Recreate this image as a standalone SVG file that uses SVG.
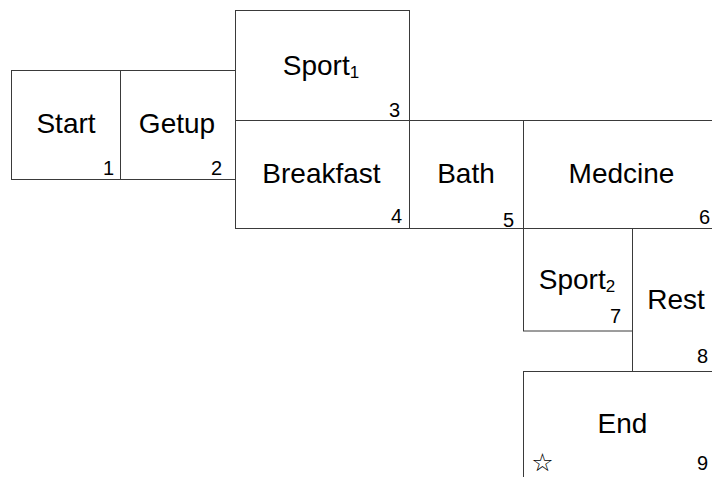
<svg xmlns="http://www.w3.org/2000/svg" width="712" height="477" viewBox="0 0 712 477">
  <style>
    .box { fill: #ffffff; stroke: #3a3a3a; stroke-width: 1; }
    .lbl { font-family: "Liberation Sans", Arial, sans-serif; font-size: 28px; fill: #000; text-anchor: middle; }
    .sub { font-size: 17px; }
    .num { font-family: "Liberation Sans", Arial, sans-serif; font-size: 20px; fill: #000; text-anchor: end; }
    .mark { font-family: "DejaVu Sans", sans-serif; font-size: 25px; fill: #000; text-anchor: middle; }
  </style>
  <rect x="0" y="0" width="712" height="477" fill="#ffffff"/>

  <g id="node-1">
    <rect class="box" x="11.5" y="70.5" width="109" height="109"/>
    <text class="lbl" x="66" y="133">Start</text>
    <text class="num" x="114" y="175">1</text>
  </g>

  <g id="node-2">
    <rect class="box" x="120.5" y="70.5" width="115" height="109"/>
    <text class="lbl" x="177" y="133">Getup</text>
    <text class="num" x="222" y="175">2</text>
  </g>

  <g id="node-3">
    <rect class="box" x="235.5" y="10.5" width="174" height="110"/>
    <text class="lbl" x="321" y="75">Sport<tspan class="sub" dy="3">1</tspan></text>
    <text class="num" x="400" y="117">3</text>
  </g>

  <g id="node-4">
    <rect class="box" x="235.5" y="120.5" width="174" height="108"/>
    <text class="lbl" x="321.5" y="183">Breakfast</text>
    <text class="num" x="402" y="223">4</text>
  </g>

  <g id="node-5">
    <rect class="box" x="409.5" y="120.5" width="114" height="108"/>
    <text class="lbl" x="466" y="183">Bath</text>
    <text class="num" x="514" y="227">5</text>
  </g>

  <g id="node-6">
    <rect class="box" x="523.5" y="120.5" width="200" height="108"/>
    <text class="lbl" x="621.5" y="183">Medcine</text>
    <text class="num" x="710" y="224">6</text>
  </g>

  <g id="node-7">
    <rect class="box" x="523.5" y="228.5" width="109" height="102.5"/>
    <text class="lbl" x="577" y="289">Sport<tspan class="sub" dy="3">2</tspan></text>
    <text class="num" x="621" y="323">7</text>
  </g>

  <g id="node-8">
    <rect class="box" x="632.5" y="228.5" width="100" height="143"/>
    <text class="lbl" x="676" y="309">Rest</text>
    <text class="num" x="708" y="363">8</text>
  </g>

  <g id="node-9">
    <rect class="box" x="523.5" y="371.5" width="200" height="120"/>
    <text class="lbl" x="622.5" y="433">End</text>
    <text class="mark" x="542.5" y="471">☆</text>
    <text class="num" x="708" y="470">9</text>
  </g>
</svg>
